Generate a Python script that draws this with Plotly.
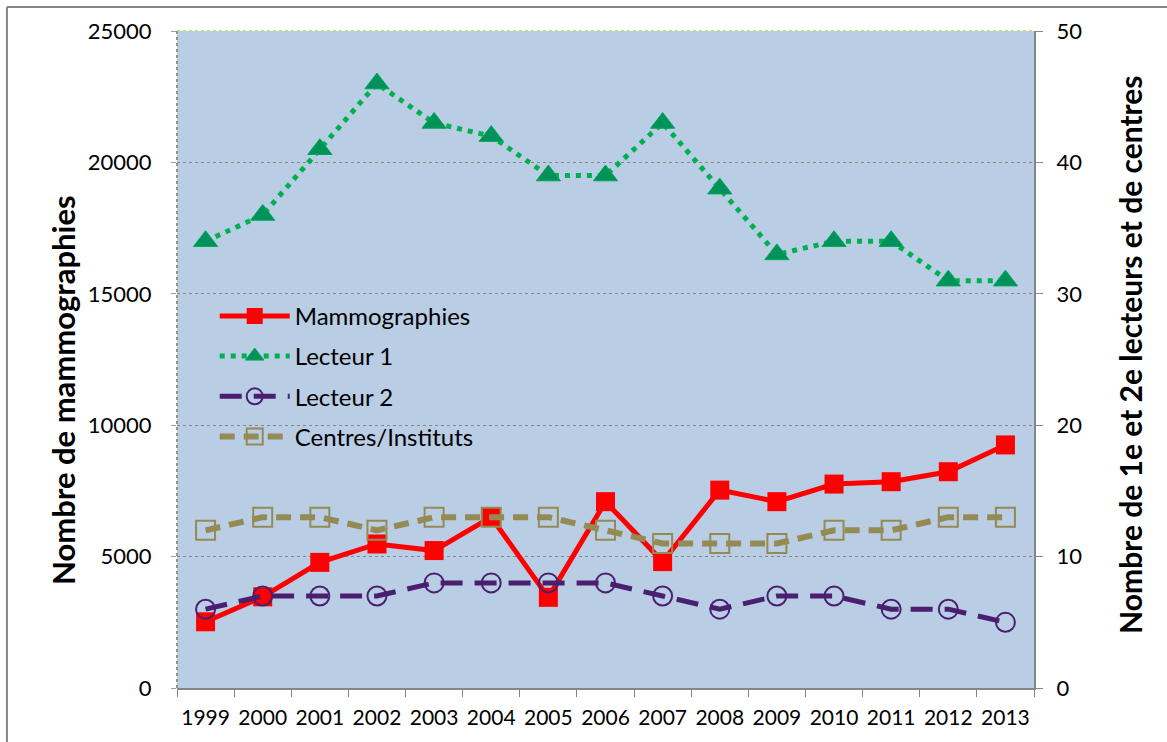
import plotly.graph_objects as go

years = ["1999", "2000", "2001", "2002", "2003", "2004", "2005", "2006",
         "2007", "2008", "2009", "2010", "2011", "2012", "2013"]
mammographies = [2520, 3470, 4780, 5480, 5230, 6500, 3450, 7090, 4810,
                 7530, 7090, 7760, 7850, 8230, 9250]
lecteur1 = [34, 36, 41, 46, 43, 42, 39, 39, 43, 38, 33, 34, 34, 31, 31]
lecteur2 = [6, 7, 7, 7, 8, 8, 8, 8, 7, 6, 7, 7, 6, 6, 5]
centres = [12, 13, 13, 12, 13, 13, 13, 12, 11, 11, 11, 12, 12, 13, 13]

left_title = "Nombre de mammographies"
right_title = "Nombre de 1e et 2e lecteurs et de centres"

FONT = "Lato"
fig = go.Figure()

fig.add_trace(go.Scatter(
    x=years, y=mammographies, name="Mammographies", mode="lines+markers",
    line=dict(color="#FF0000", width=5),
    marker=dict(symbol="square", size=19, color="#FF0000"),
    legendgroup="a", yaxis="y"))
fig.add_trace(go.Scatter(
    x=years, y=lecteur1, name="Lecteur 1", mode="lines+markers",
    line=dict(color="#00B050", width=5, dash="5px,6px"),
    marker=dict(symbol="triangle-up", size=21, color="#00925A",
                line=dict(color="#00A855", width=1)),
    legendgroup="b", yaxis="y2"))
fig.add_trace(go.Scatter(
    x=years, y=lecteur2, name="Lecteur 2", mode="lines+markers",
    line=dict(color="#4B1F6F", width=5, dash="22px,12px"),
    marker=dict(symbol="circle-open", size=19, color="#4B1F6F",
                line=dict(color="#4B1F6F", width=2)),
    legendgroup="c", yaxis="y2"))
fig.add_trace(go.Scatter(
    x=years, y=centres, name="Centres/Instituts", mode="lines+markers",
    line=dict(color="#948A54", width=6, dash="15px,9px"),
    marker=dict(symbol="square-open", size=19, color="#948A54",
                line=dict(color="#948A54", width=2)),
    legendgroup="d", yaxis="y2"))

fig.update_layout(
    width=1167, height=742,
    margin=dict(l=177, r=133, t=31, b=54, autoexpand=False),
    paper_bgcolor="white", plot_bgcolor="#B9CDE5",
    font=dict(family=FONT, size=22, color="black"),
    xaxis=dict(type="category", range=[-0.5, len(years) - 0.5],
               tickson="boundaries", ticks="outside",
               ticklen=7, tickcolor="#868686", showline=True,
               linecolor="#868686", linewidth=2, showgrid=False,
               tickfont=dict(size=21), ticklabelstandoff=10,
               tickangle=0, automargin=False),
    yaxis=dict(range=[0, 25000], dtick=5000, tickformat="d", showgrid=True,
               gridcolor="#868686", griddash="dot", gridwidth=1,
               ticks="outside", ticklen=5, tickcolor="#A0A0A0",
               showline=False, zeroline=False, tickfont=dict(size=22),
               ticklabelstandoff=15, automargin=False),
    yaxis2=dict(range=[0, 50], dtick=10, overlaying="y", side="right",
                showgrid=False, ticks="outside", ticklen=7,
                tickcolor="#868686", showline=True, linecolor="#868686",
                linewidth=2, zeroline=False, tickfont=dict(size=22),
                ticklabelstandoff=9, automargin=False),
    showlegend=True,
    legend=dict(x=0.044, y=0.6, xanchor="left", yanchor="top",
                bgcolor="rgba(0,0,0,0)", font=dict(size=24),
                traceorder="grouped", tracegroupgap=6, itemwidth=70),
    annotations=[
        dict(text="<b>" + left_title + "</b>", xref="paper", yref="paper",
             x=-0.133, y=0.4536, xanchor="center", yanchor="middle",
             textangle=-90, showarrow=False, font=dict(size=31)),
        dict(text="<b>" + right_title + "</b>", xref="paper", yref="paper",
             x=1.112, y=0.507, xanchor="center", yanchor="middle",
             textangle=-90, showarrow=False, font=dict(size=30)),
    ],
    shapes=[
        dict(type="line", xref="paper", yref="paper", x0=-0.1984, x1=-0.1984,
             y0=1.0365, y1=-0.2, line=dict(color="#868686", width=2)),
        dict(type="line", xref="paper", yref="paper", x0=-0.1984, x1=1.2,
             y0=1.0365, y1=1.0365, line=dict(color="#868686", width=2)),
        dict(type="line", xref="paper", yref="paper", x0=0, x1=1,
             y0=1, y1=1, line=dict(color="#B8E08C", width=2, dash="dot")),
        dict(type="line", xref="paper", yref="paper", x0=0, x1=0,
             y0=0, y1=1, line=dict(color="#8C9C78", width=2, dash="dot")),
    ],
)

fig.write_html("out.html",
               config={"displayModeBar": False},
               post_script="document.body.style.margin='0';")
